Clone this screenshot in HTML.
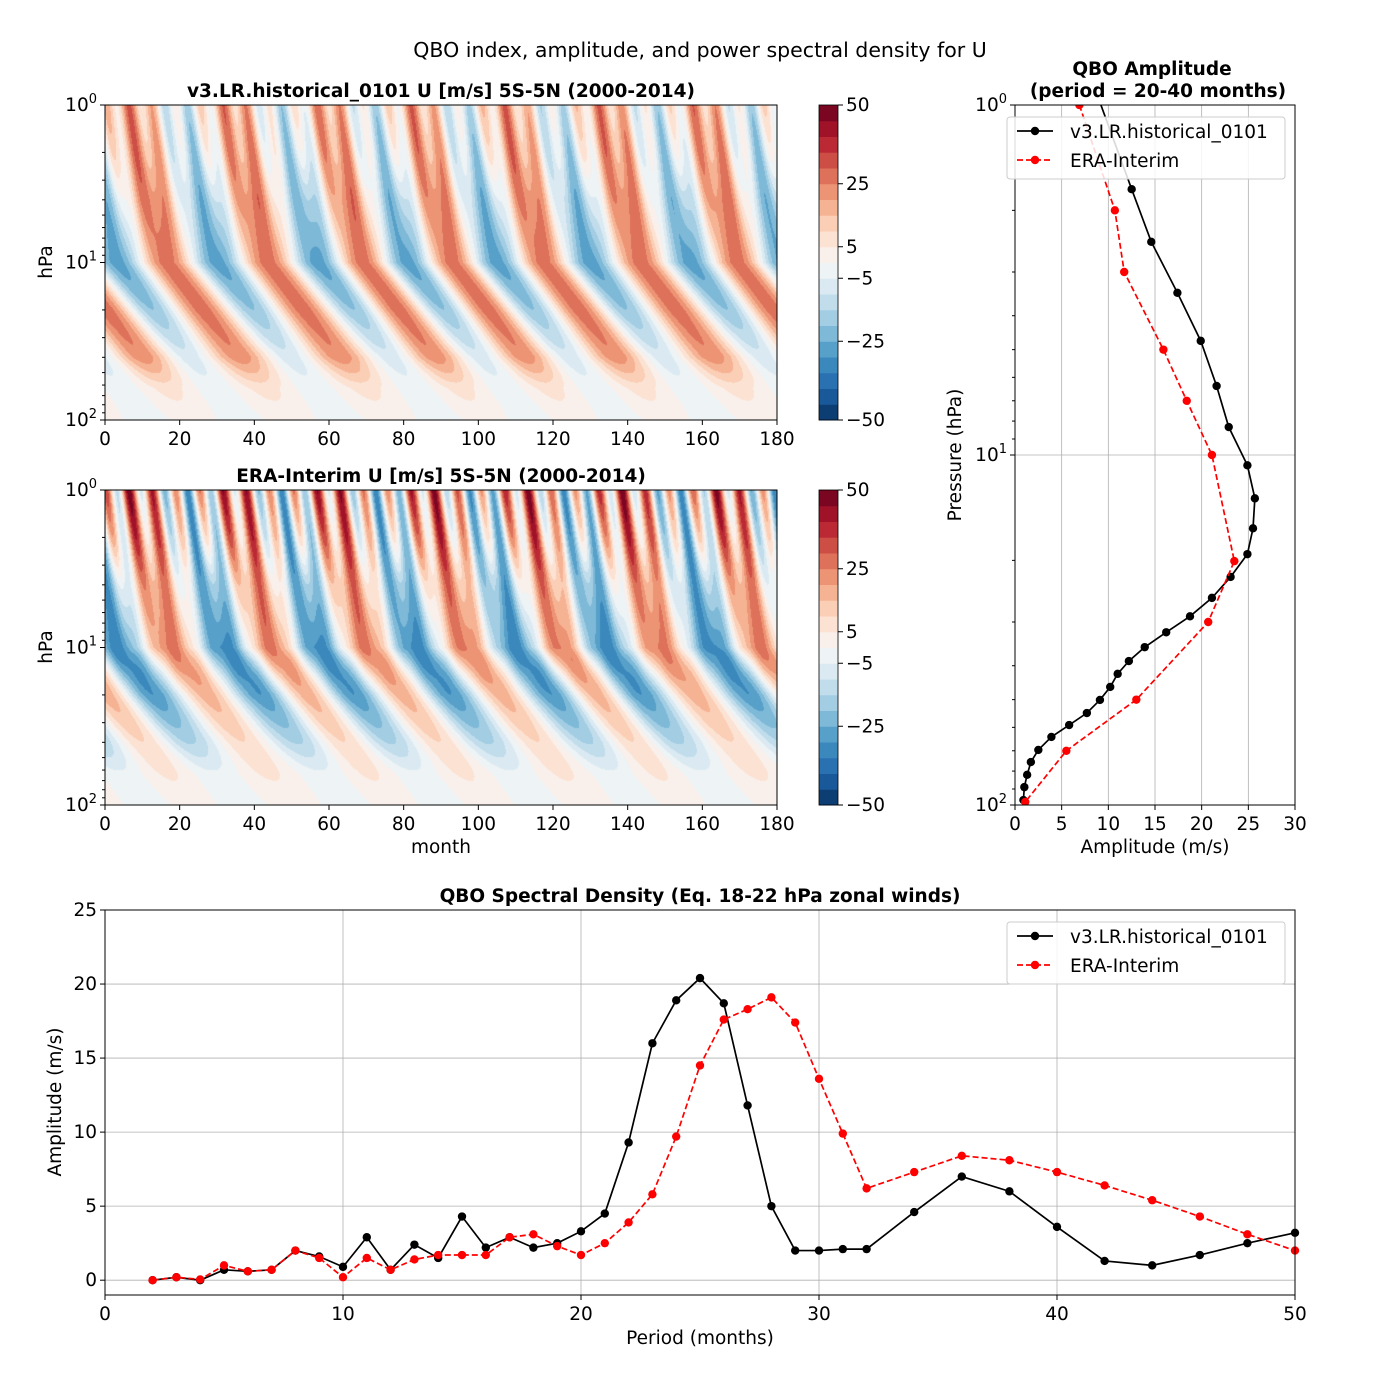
<!DOCTYPE html>
<html><head><meta charset="utf-8"><style>
body{margin:0;background:#fff;}
#wrap{position:relative;width:1400px;height:1400px;font-family:"DejaVu Sans","Liberation Sans",sans-serif;}
canvas{position:absolute;}
svg{position:absolute;left:0;top:0;}
text{font-family:"DejaVu Sans","Liberation Sans",sans-serif;fill:#000;}
</style></head><body>
<div id="wrap">
<canvas id="f1" width="672" height="315" style="left:105px;top:105px"></canvas>
<canvas id="f2" width="672" height="315" style="left:105px;top:490px"></canvas>
<svg id="s" width="1400" height="1400"></svg>
</div>
<script>
// ---- data ----
const periods = [2,3,4,5,6,7,8,9,10,11,12,13,14,15,16,17,18,19,20,21,22,23,24,25,26,27,28,29,30,31,32,34,36,38,40,42,44,46,48,50];
const specModel = [0,0.2,0,0.7,0.6,0.7,2.0,1.6,0.9,2.9,0.7,2.4,1.5,4.3,2.2,2.9,2.2,2.5,3.3,4.5,9.3,16.0,18.9,20.4,18.7,11.8,5.0,2.0,2.0,2.1,2.1,4.6,7.0,6.0,3.6,1.3,1.0,1.7,2.5,3.2];
const specEra = [0,0.2,0.05,1.0,0.6,0.7,2.0,1.5,0.2,1.5,0.7,1.4,1.7,1.7,1.7,2.9,3.1,2.3,1.7,2.5,3.9,5.8,9.7,14.5,17.6,18.3,19.1,17.4,13.6,9.9,6.2,7.3,8.4,8.1,7.3,6.4,5.4,4.3,3.1,2.0];
const ampModelP = [0.95,1.74,2.46,3.44,4.72,6.35,8.32,10.7,13.3,16.2,19.2,22.3,25.6,28.9,32.1,35.4,38.8,42.2,46,50.1,54.6,59.1,63.9,69.6,75.4,82,88.9,96.8];
const ampModelV = [8.9,12.5,14.6,17.4,19.9,21.6,22.9,24.9,25.7,25.5,24.9,23.1,21.1,18.75,16.2,13.9,12.2,11.0,10.2,9.1,7.7,5.8,3.9,2.5,1.7,1.3,1.0,0.9];
const ampEraP = [1.0,2.0,3.0,5.0,7.0,10,20.1,30,50,70,98];
const ampEraV = [6.9,10.7,11.7,15.9,18.4,21.1,23.5,20.7,13.0,5.5,1.1];
// contour field descriptors (easterly-phase centre months at 10 hPa)
const blueModel = [-22,3,30,57,81,105,130,157,182,207];
const blueEra = [-22,3,32,57,83,110,134,163,188,213];
const zNodes = [0,0.3,0.6,1,1.3,1.6,1.8,2];
const ampModelZ = [14,18,24,28,24,16,5,2];
const biasModelZ = [6,5,3,0,4,8,2,0];
const saoModelZ = [12,10,5,0,0,0,0,0];
const ampEraZ = [14,18,24,30,24,13,5,2];
const biasEraZ = [8,5,0,-3,-6,-3,1,0];
const saoEraZ = [28,20,8,2,0,0,0,0];
const descZ = [0,0.5,1,1.5,2];
const descOff = [-10,-5,0,16,33];

const rdbu = [[5,48,97],[33,102,172],[67,147,195],[146,197,222],[209,229,240],[247,247,247],[253,219,199],[244,165,130],[214,96,77],[178,24,43],[103,0,31]];
function cmap(f){f=Math.max(0,Math.min(1,f));const x=f*10,i=Math.min(9,Math.floor(x)),r=x-i;const a=rdbu[i],b=rdbu[i+1];return [0,1,2].map(k=>Math.round(a[k]+(b[k]-a[k])*r));}
function binColor(i){return cmap((i+0.5)/20);}
function interp(xs,ys,x){if(x<=xs[0])return ys[0];for(let i=1;i<xs.length;i++){if(x<=xs[i]){const r=(x-xs[i-1])/(xs[i]-xs[i-1]);return ys[i-1]+r*(ys[i]-ys[i-1]);}}return ys[ys.length-1];}

function drawField(id,blue,A,B,S){
  const c=document.getElementById(id),ctx=c.getContext('2d'),W=c.width,H=c.height;
  const img=ctx.createImageData(W,H);
  for(let py=0;py<H;py++){
    const z=py/(H-1)*2;const a=interp(zNodes,A,z),b=interp(zNodes,B,z),s=interp(zNodes,S,z),off=interp(descZ,descOff,z);
    for(let px=0;px<W;px++){
      const t=px/(W-1)*180;const tau=t-off;
      let k=0;while(k<blue.length-2&&tau>=blue[k+1])k++;
      const ph=(tau-blue[k])/(blue[k+1]-blue[k]);
      let u=-a*Math.cos(2*Math.PI*ph)+b+s*Math.cos(2*Math.PI*(t-6*z)/6.3);
      let bi=Math.floor((u+50)/5);bi=Math.max(0,Math.min(19,bi));
      const col=binColor(bi);const o=(py*W+px)*4;
      img.data[o]=col[0];img.data[o+1]=col[1];img.data[o+2]=col[2];img.data[o+3]=255;
    }
  }
  ctx.putImageData(img,0,0);
}
drawField('f1',blueModel,ampModelZ,biasModelZ,saoModelZ);
drawField('f2',blueEra,ampEraZ,biasEraZ,saoEraZ);

const svg=document.getElementById('s');const NS='http://www.w3.org/2000/svg';
function el(tag,attrs,txt){const e=document.createElementNS(NS,tag);for(const k in attrs)e.setAttribute(k,attrs[k]);if(txt!==undefined)e.textContent=txt;svg.appendChild(e);return e;}
const FS=18.5;
function T(x,y,s,o){o=o||{};const e=el('text',Object.assign({x:x,y:y,'font-size':o.fs||FS,'text-anchor':o.anchor||'middle'},o.attrs||{}),s);if(o.bold)e.setAttribute('font-weight','bold');return e;}
function powLabel(x,y,exp,anchor){const e=el('text',{x:x,y:y,'font-size':FS,'text-anchor':anchor||'end'});const a=document.createElementNS(NS,'tspan');a.textContent='10';e.appendChild(a);const b=document.createElementNS(NS,'tspan');b.setAttribute('dy','-8');b.setAttribute('font-size','13');b.textContent=exp;e.appendChild(b);return e;}

let t=T(700,57,'QBO index, amplitude, and power spectral density for U',{fs:20.5});


function contourAxes(y0,title,name){
  const x0=105,x1=777,y1=y0+315;
  const tt=T(441,y0-8,title,{bold:true,fs:18.5});
  
  const r=el('rect',{x:x0,y:y0,width:672,height:315,fill:'none',stroke:'#000','stroke-width':1});
  
  for(let m=0;m<=180;m+=20){const x=x0+m/180*672;el('line',{x1:x,y1:y1,x2:x,y2:y1+5,stroke:'#000'});T(x,y1+25,String(m));}
  for(let d=0;d<2;d++)for(let k=2;k<10;k++){const y=y0+(d+Math.log10(k))/2*315;el('line',{x1:x0-3,y1:y,x2:x0,y2:y,stroke:'#000'});}
  for(let d=0;d<=2;d++){const y=y0+d/2*315;el('line',{x1:x0-5,y1:y,x2:x0,y2:y,stroke:'#000'});powLabel(x0-8,y+6,String(d));}
  const yl=T(0,0,'hPa',{attrs:{transform:'translate(52,'+(y0+157)+') rotate(-90)'}});
  
  const cx=819,cw=19;
  for(let i=0;i<20;i++){const c=binColor(i);const yy=y1-(i+1)*315/20;
    const rr=el('rect',{x:cx,y:yy,width:cw,height:315/20+0.5,fill:'rgb('+c.join(',')+')'});
    }
  el('rect',{x:cx,y:y0,width:cw,height:315,fill:'none',stroke:'#000','stroke-width':0.8});
  [50,25,5,-5,-25,-50].forEach(v=>{const y=y1-(v+50)/100*315;el('line',{x1:cx+cw,y1:y,x2:cx+cw+5,y2:y,stroke:'#000'});T(cx+cw+8,y+6,v<0?'\u2212'+(-v):String(v),{anchor:'start'});});
}
contourAxes(105,'v3.LR.historical_0101 U [m/s] 5S-5N (2000-2014)','model-contour');
contourAxes(490,'ERA-Interim U [m/s] 5S-5N (2000-2014)','era-contour');
let xl=T(441,853,'month');

// amplitude panel
const ax0=1015,ax1=1295,ay0=105,ay1=805;
const ampX=v=>ax0+v/30*(ax1-ax0);
const ampY=p=>ay0+Math.log10(p)/2*(ay1-ay0);
t=T(1152,75,'QBO Amplitude',{bold:true});
T(1158,97,'(period = 20-40 months)',{bold:true});
for(let v=0;v<=30;v+=5){const x=ampX(v);el('line',{x1:x,y1:ay0,x2:x,y2:ay1,stroke:'#b0b0b0','stroke-width':0.8});el('line',{x1:x,y1:ay1,x2:x,y2:ay1+5,stroke:'#000'});T(x,ay1+25,String(v));}
el('line',{x1:ax0,y1:ampY(10),x2:ax1,y2:ampY(10),stroke:'#b0b0b0','stroke-width':0.8});
for(let d=0;d<2;d++)for(let k=2;k<10;k++){const y=ampY(Math.pow(10,d)*k);el('line',{x1:ax0-3,y1:y,x2:ax0,y2:y,stroke:'#000'});}
for(let d=0;d<=2;d++){const y=ampY(Math.pow(10,d));el('line',{x1:ax0-5,y1:y,x2:ax0,y2:y,stroke:'#000'});powLabel(ax0-8,y+6,String(d));}
const cp=el('clipPath',{id:'cpA'});const cr=document.createElementNS(NS,'rect');
cr.setAttribute('x',ax0);cr.setAttribute('y',ay0);cr.setAttribute('width',ax1-ax0);cr.setAttribute('height',ay1-ay0);cp.appendChild(cr);
function series(xs,ys,fx,fy,color,dash,name,clip){
  const g=el('g',{'clip-path':clip?'url(#'+clip+')':''});
  const pts=xs.map((x,i)=>fx(x,ys[i])+','+fy(x,ys[i])).join(' ');
  const pl=document.createElementNS(NS,'polyline');pl.setAttribute('points',pts);pl.setAttribute('fill','none');pl.setAttribute('stroke',color);pl.setAttribute('stroke-width','1.7');if(dash)pl.setAttribute('stroke-dasharray','6,3');g.appendChild(pl);
  xs.forEach((x,i)=>{const c=document.createElementNS(NS,'circle');c.setAttribute('cx',fx(x,ys[i]));c.setAttribute('cy',fy(x,ys[i]));c.setAttribute('r','4.2');c.setAttribute('fill',color);
    
    
    g.appendChild(c);});
}
series(ampModelP,ampModelV,(p,v)=>ampX(v),(p,v)=>ampY(p),'#000',false,'amplitude-model-line','cpA');
series(ampEraP,ampEraV,(p,v)=>ampX(v),(p,v)=>ampY(p),'#ff0000',true,'amplitude-era-line','cpA');
el('rect',{x:ax0,y:ay0,width:ax1-ax0,height:ay1-ay0,fill:'none',stroke:'#000'});
t=T(1155,853,'Amplitude (m/s)');
t=T(0,0,'Pressure (hPa)',{attrs:{transform:'translate(961,455) rotate(-90)'}});
function legend(x,y,name){
  const g=el('rect',{x:x,y:y,width:278,height:62,rx:3,fill:'#fff','fill-opacity':0.85,stroke:'#ccc'});
  el('line',{x1:x+10,y1:y+14,x2:x+46,y2:y+14,stroke:'#000','stroke-width':1.7});el('circle',{cx:x+28,cy:y+14,r:4.2,fill:'#000'});
  let e=T(x+63,y+21,'v3.LR.historical_0101',{anchor:'start'});
  el('line',{x1:x+10,y1:y+43,x2:x+46,y2:y+43,stroke:'#f00','stroke-width':1.7,'stroke-dasharray':'6,3'});el('circle',{cx:x+28,cy:y+43,r:4.2,fill:'#f00'});
  e=T(x+63,y+50,'ERA-Interim',{anchor:'start'});
}
legend(1007,117,'amplitude-legend');

// spectral panel
const sx0=105,sx1=1295,sy0=910,sy1=1295;
const sX=v=>sx0+v/50*(sx1-sx0);
const sY=v=>sy1-(v+1)/26*(sy1-sy0);
t=T(700,902,'QBO Spectral Density (Eq. 18-22 hPa zonal winds)',{bold:true});
for(let v=0;v<=50;v+=10){const x=sX(v);el('line',{x1:x,y1:sy0,x2:x,y2:sy1,stroke:'#b0b0b0','stroke-width':0.8});el('line',{x1:x,y1:sy1,x2:x,y2:sy1+5,stroke:'#000'});T(x,sy1+25,String(v));}
for(let v=0;v<=25;v+=5){const y=sY(v);el('line',{x1:sx0,y1:y,x2:sx1,y2:y,stroke:'#b0b0b0','stroke-width':0.8});el('line',{x1:sx0-5,y1:y,x2:sx0,y2:y,stroke:'#000'});T(sx0-8,y+6,String(v),{anchor:'end'});}
series(periods,specModel,(p,v)=>sX(p),(p,v)=>sY(v),'#000',false,'spectral-model-line');
series(periods,specEra,(p,v)=>sX(p),(p,v)=>sY(v),'#ff0000',true,'spectral-era-line');
el('rect',{x:sx0,y:sy0,width:sx1-sx0,height:sy1-sy0,fill:'none',stroke:'#000'});
legend(1007,922,'spectral-legend');
t=T(700,1344,'Period (months)');
t=T(0,0,'Amplitude (m/s)',{attrs:{transform:'translate(61,1102) rotate(-90)'}});
</script>
</body></html>
